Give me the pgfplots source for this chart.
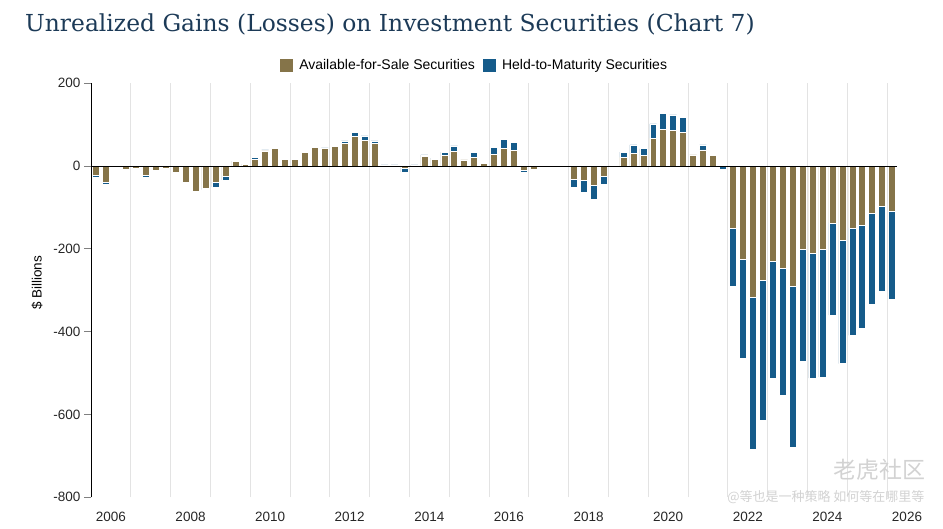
\documentclass[border=0pt]{standalone}
\usepackage{fontspec}
\setmainfont{Liberation Sans}
\newfontfamily\titlefont{DejaVu Serif}
\newfontfamily\cjk{Noto Sans CJK SC}
\usepackage{pgfplots}
\pgfplotsset{compat=1.18}
\usepackage{pgfplotstable}
\definecolor{afs}{HTML}{857449}
\definecolor{htm}{HTML}{155B8A}
\definecolor{titlec}{HTML}{1C3A57}

% quarter index + 0.5 (0.5 = 2006Q1), $ billions
\pgfplotstableread{
x afs htm
0.5 -23 -3
1.5 -39 -4
2.5 -3 0
3.5 -8 -1
4.5 -5 0
5.5 -23 -3
6.5 -11 -1
7.5 -4 0
8.5 -15 -1
9.5 -39 -1
10.5 -60 -3
11.5 -53 -4
12.5 -39 -12
13.5 -25 -8
14.5 11 1
15.5 4 1
16.5 17 4
17.5 37 2
18.5 42 4
19.5 17 2
20.5 16 1
21.5 33 3
22.5 45 3
23.5 42 2
24.5 47 3
25.5 54 7
26.5 71 10
27.5 63 10
28.5 55 6
29.5 2 1
30.5 2 1
31.5 -5 -9
32.5 2 1
33.5 23 4
34.5 17 2
35.5 26 8
36.5 35 14
37.5 15 2
38.5 21 12
39.5 6 0
40.5 28 17
41.5 42 23
42.5 38 20
43.5 -11 -3
44.5 -7 -2
45.5 1 0
46.5 2 0
47.5 -3 0
48.5 -31 -21
49.5 -35 -27
50.5 -47 -33
51.5 -25 -18
52.5 1 0
53.5 21 13
54.5 31 20
55.5 26 16
56.5 67 35
57.5 89 39
58.5 86 38
59.5 82 36
60.5 27 0
61.5 39 12
62.5 26 2
63.5 -1 -7
64.5 -151 -139
65.5 -226 -239
66.5 -318 -366
67.5 -276 -338
68.5 -231 -281
69.5 -247 -306
70.5 -291 -389
71.5 -202 -270
72.5 -210 -302
73.5 -202 -307
74.5 -137 -223
75.5 -179 -298
76.5 -149 -260
77.5 -142 -250
78.5 -113 -220
79.5 -97 -205
80.5 -109 -213
}\data

\begin{document}
\begin{tikzpicture}
\path[use as bounding box] (0pt,0pt) rectangle (943pt,-529pt);
\node[anchor=base west, text=titlec, inner sep=0pt,
  font=\titlefont\fontsize{23.4}{28}\selectfont] at (25pt,-31.5pt)
  {Unrealized Gains (Losses) on Investment Securities (Chart 7)};
\begin{axis}[
  at={(91pt,-497.3pt)}, anchor=south west,
  scale only axis, width=816pt, height=414pt,
  xmin=0, xmax=82, ymin=-800, ymax=200,
  ybar stacked, bar width=0.7,
  axis lines=left, axis line style={-, black, line width=0.9pt},
  x axis line style={draw=none},
  ytick={-800,-600,-400,-200,0,200},
  tick align=outside, major tick length=7pt,
  ytick style={gray, line width=0.9pt},
  xtick={4,8,...,80}, xticklabels={},
  xtick style={draw=none},
  xmajorgrids, grid style={gray!22, line width=0.9pt},
  extra x ticks={2,10,18,26,34,42,50,58,66,74,82},
  extra x tick labels={2006,2008,2010,2012,2014,2016,2018,2020,2022,2024,2026},
  extra x tick style={grid=none, major tick length=0pt},
  /pgf/number format/assume math mode=true,
  ticklabel style={font=\fontsize{13.5}{15}\selectfont, text=black!85},
  xticklabel style={yshift=-11pt},
  ylabel={\$ Billions},
  ylabel style={at={(axis description cs:-0.066,0.518)}, anchor=center,
    font=\fontsize{13.5}{15}\selectfont},
  legend style={at={(0.47,1.044)}, anchor=center, draw=none, fill=none,
    legend columns=-1, font=\fontsize{14}{16}\selectfont,
    /tikz/every even column/.append style={column sep=6pt}},
  legend image code/.code={\path[#1, draw=none] (0pt,-6.5pt) rectangle (13pt,6.5pt); \path (17pt,0pt);},
]
\addplot[fill=afs, draw=white, line width=0.5pt] table[x=x, y=afs] {\data};
\addlegendentry{Available-for-Sale Securities}
\addplot[fill=htm, draw=white, line width=0.5pt] table[x=x, y=htm] {\data};
\addlegendentry{Held-to-Maturity Securities}
\coordinate (z0) at (axis cs:0,0);
\coordinate (z1) at (axis cs:81,0);
\end{axis}
\draw[black, line width=1pt] (z0) -- (z1);
\node[text=gray!35, font=\cjk\fontsize{23}{26}\selectfont, anchor=center] at (879pt,-470pt) {老虎社区};
\node[text=gray!35, font=\cjk\fontsize{13}{15}\selectfont, anchor=east] at (928pt,-497pt) {@等也是一种策略 如何等在哪里等};
\end{tikzpicture}
\end{document}
